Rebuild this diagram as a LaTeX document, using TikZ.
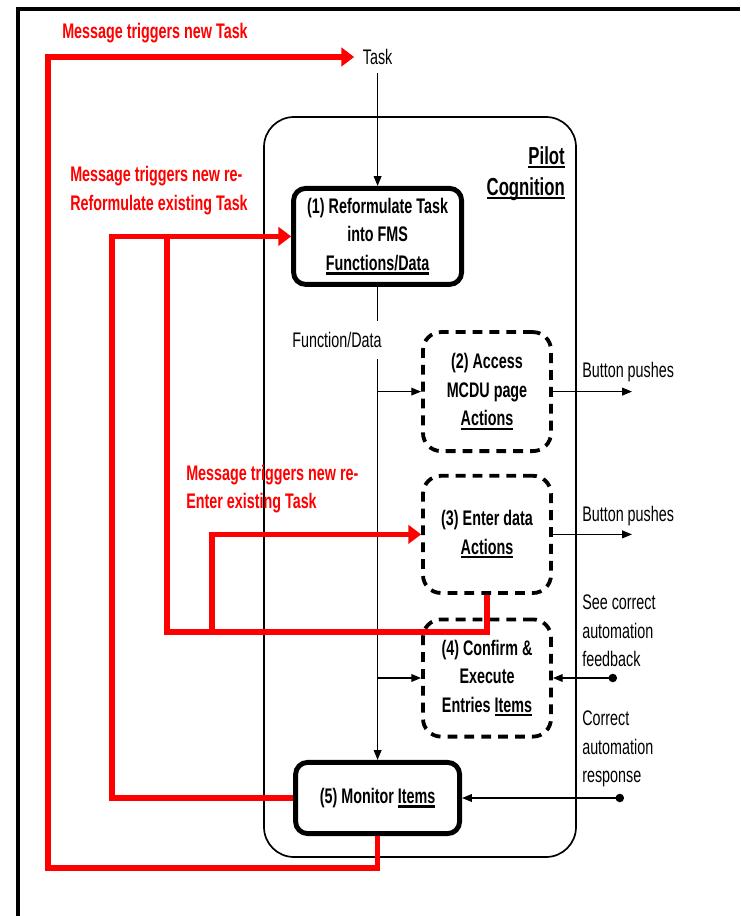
\documentclass[tikz,border=0pt]{standalone}
\usepackage{fontspec}
\setmainfont{Liberation Sans}[FakeStretch=0.68]
\usepackage{tikz}
\usetikzlibrary{arrows.meta, positioning}
\newsavebox{\ulbox}
\newcommand{\ulthick}[1]{\sbox{\ulbox}{#1}\rlap{\rule[-3pt]{\wd\ulbox}{1.6pt}}\usebox{\ulbox}}

\begin{document}
\begin{tikzpicture}[
      node font=\fontsize{15}{20.3}\selectfont,
      stage/.style={draw, line width=3.5pt, rounded corners=0.3cm, align=center, font=\bfseries},
      action/.style={draw, line width=2.7pt, dash pattern=on 7pt off 5pt, rounded corners=0.45cm, minimum width=3.2cm, minimum height=2.93cm, align=center, font=\bfseries},
      arr/.style={-{Triangle[length=7pt, width=5.5pt]}, line width=1pt},
      dotarr/.style={{Circle[length=6pt]}-{Triangle[length=7pt, width=5.5pt]}, line width=1pt},
      redarr/.style={-{Triangle[length=9pt, width=13pt]}, line width=3.8pt, red},
      redline/.style={line width=3.8pt, red},
      msg/.style={anchor=west, align=left, inner sep=0pt, text=red, font=\bfseries},
      lbl/.style={anchor=west, align=left, inner sep=0pt}
    ]
      \useasboundingbox (0,0) rectangle (18.5,-22.9);
      \draw[line width=2.2pt] (0.45,-22.9) -- (0.45,-0.225) -- (18.5,-0.225);

      \node[draw, line width=1.2pt, rounded corners=0.75cm, minimum width=7.8cm, minimum height=18.5cm] (pilot) at (10.5,-12.175) {};
      \node[anchor=north east, inner sep=0pt, align=right, font=\fontsize{17.5}{22}\selectfont\bfseries] (cog) at (14.125,-3.65) {\ulthick{Pilot}\\\ulthick{Cognition}};

      \node[inner sep=6pt] (task) at (9.44,-1.425) {Task};
      \node[stage, minimum width=4.2cm, minimum height=2.4cm] (reform) at (9.44,-5.91) {(1) Reformulate Task\\into FMS\\\ulthick{Functions/Data}};
      \node[inner xsep=0pt, inner ysep=8pt] (fdata) at (8.425,-8.5) {Function/Data};
      \node[action, minimum height=2.975cm] (access) at (12.175,-9.79) {(2) Access\\MCDU page\\\ulthick{Actions}};
      \node[action] (enter) at (12.175,-13.36) {(3) Enter data\\\ulthick{Actions}};
      \node[action] (confirm) at (12.175,-16.95) {(4) Confirm \&\\Execute\\Entries \ulthick{Items}};
      \node[stage, minimum width=4.1cm, minimum height=1.78cm] (monitor) at (9.44,-19.95) {(5) Monitor \ulthick{Items}};

      % outside inputs and outputs
      \coordinate (out2) at (15.8,-9.79);
      \coordinate (out3) at (15.8,-13.36);
      \coordinate (fb) at (15.425,-16.95);
      \coordinate (resp) at (15.6,-19.95);
      \node[lbl] (push2) at (14.55,-9.3) {Button pushes};
      \node[lbl] (push3) at (14.55,-12.9) {Button pushes};
      \node[lbl] (seefb) at (14.55,-15.775) {See correct\\automation\\feedback};
      \node[lbl] (corr) at (14.55,-18.725) {Correct\\automation\\response};

      \draw[arr] (task) -- (reform);
      \draw[line width=1pt] (reform) -- (reform.south |- fdata.north);
      \draw[arr] (reform.south |- fdata.south) -- (monitor);
      \draw[arr] (reform.south |- access.west) -- (access);
      \draw[arr] (reform.south |- confirm.west) -- (confirm);
      \draw[arr] (access) -- (out2);
      \draw[arr] (enter) -- (out3);
      \draw[dotarr] (fb) -- (confirm);
      \draw[dotarr] (resp) -- (monitor);

      % red feedback loops
      \node[msg] (newtask) at (1.55,-0.825) {Message triggers new Task};
      \node[msg] (reformmsg) at (1.75,-4.76) {Message triggers new re-\\Reformulate existing Task};
      \node[msg] (entermsg) at (4.65,-12.225) {Message triggers new re-\\Enter existing Task};
      \draw[redarr] (monitor.south) |- (1.2,-21.7) |- (task.west);
      \draw[redarr] (monitor.west) -| (2.8,-5.91) -- (reform.west);
      \draw[redline] (enter.south) |- (4.175,-15.8) -- (4.175,-5.91);
      \draw[redarr] (5.3,-15.8) |- (enter.west);
    \end{tikzpicture}
\end{document}
